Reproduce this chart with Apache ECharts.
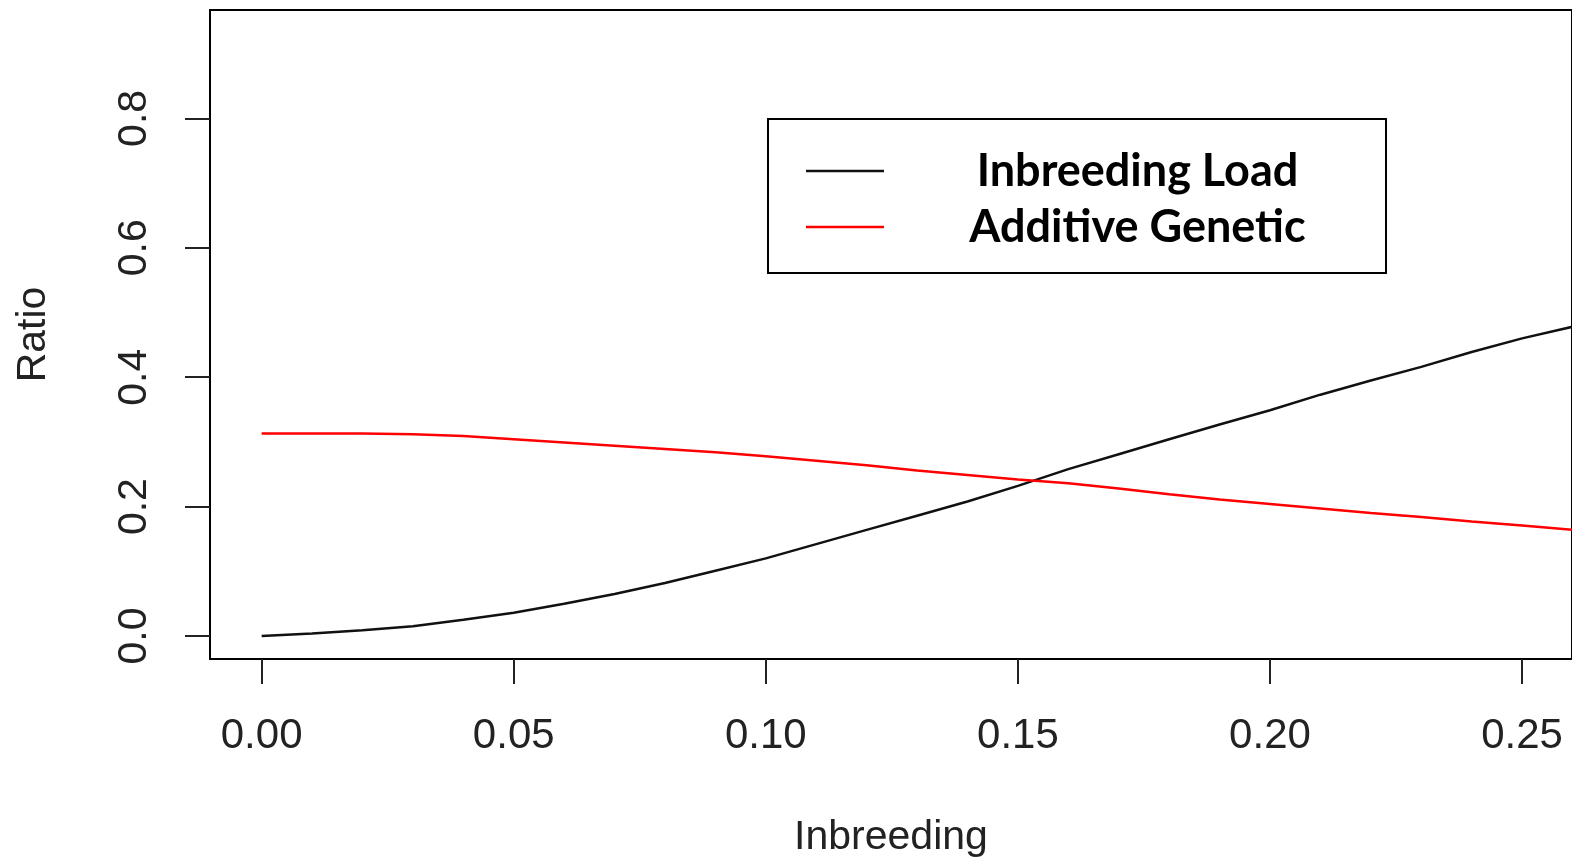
<!DOCTYPE html>
<html>
<head>
<meta charset="utf-8">
<script src="https://cdn.jsdelivr.net/npm/echarts@6/dist/echarts.min.js"></script>
<style>
  html, body { margin: 0; padding: 0; background: #fff; }
  #main { width: 1572px; height: 864px; }
</style>
</head>
<body>
<div id="main"></div>
<script>
  // values
  const inbreeding = [0.00, 0.01, 0.02, 0.03, 0.04, 0.05, 0.06, 0.07, 0.08, 0.09,
                      0.10, 0.11, 0.12, 0.13, 0.14, 0.15, 0.16, 0.17, 0.18, 0.19,
                      0.20, 0.21, 0.22, 0.23, 0.24, 0.25, 0.26];
  const inbreedingLoad = [0.000, 0.004, 0.009, 0.015, 0.025, 0.036, 0.050, 0.065, 0.082, 0.101,
                          0.120, 0.142, 0.164, 0.186, 0.208, 0.232, 0.258, 0.281, 0.304, 0.327,
                          0.349, 0.373, 0.395, 0.416, 0.439, 0.460, 0.478];
  const additiveGenetic = [0.313, 0.313, 0.313, 0.312, 0.309, 0.304, 0.299, 0.294, 0.289, 0.284,
                           0.278, 0.271, 0.264, 0.256, 0.249, 0.242, 0.236, 0.228, 0.219, 0.211,
                           0.204, 0.197, 0.190, 0.184, 0.177, 0.171, 0.164];
  const xTicks = [0, 0.05, 0.10, 0.15, 0.20, 0.25];
  const yTicks = [0, 0.2, 0.4, 0.6, 0.8];

  const axisFont = 'Liberation Sans';
  const legendFont = 'Lato';

  let myChart = echarts.init(document.getElementById('main'));

  myChart.setOption({
    animation: false,
    backgroundColor: '#fff',
    grid: {
      left: 210, top: 10, right: -2, bottom: 205,
      show: true, borderColor: '#000', borderWidth: 2
    },
    legend: {
      orient: 'vertical',
      left: 768, top: 119,
      padding: [24, 0, 18, 38],
      borderColor: '#000', borderWidth: 2,
      backgroundColor: '#fff',
      icon: 'rect',
      itemWidth: 78, itemHeight: 2.5, itemGap: 0,
      selectedMode: false,
      formatter: function (name) { return '{t|' + name + '}'; },
      textStyle: {
        color: '#000',
        lineHeight: 56,
        rich: {
          t: { width: 497, height: 56, align: 'center', fontFamily: legendFont, fontWeight: 'bold',
               fontSize: 45, lineHeight: 56, color: '#000' }
        }
      },
      data: ['Inbreeding Load', 'Additive Genetic']
    },
    xAxis: {
      type: 'value',
      min: -0.01024, max: 0.2599,
      name: 'Inbreeding',
      nameLocation: 'middle',
      nameGap: 158,
      nameTextStyle: { fontFamily: axisFont, fontSize: 41, color: '#222' },
      axisLine: { show: false, onZero: false },
      axisTick: { show: true, length: 25, customValues: xTicks, lineStyle: { color: '#222', width: 2 } },
      axisLabel: {
        customValues: xTicks, margin: 56,
        fontFamily: axisFont, fontSize: 42, color: '#222',
        formatter: function (v) { return v.toFixed(2); }
      },
      splitLine: { show: false }
    },
    yAxis: {
      type: 'value',
      min: -0.0355, max: 0.9675,
      name: 'Ratio',
      nameLocation: 'middle',
      nameGap: 156,
      nameTextStyle: { fontFamily: axisFont, fontSize: 41, color: '#222' },
      axisLine: { show: false, onZero: false },
      axisTick: { show: true, length: 25, customValues: yTicks, lineStyle: { color: '#222', width: 2 } },
      axisLabel: {
        customValues: yTicks, margin: 55, rotate: 90,
        fontFamily: axisFont, fontSize: 41, color: '#222',
        formatter: function (v) { return v.toFixed(1); }
      },
      splitLine: { show: false }
    },
    series: [
      {
        name: 'Inbreeding Load',
        type: 'line',
        symbol: 'none',
        color: '#111',
        itemStyle: { color: '#111' },
        lineStyle: { color: '#111', width: 2.5 },
        data: inbreeding.map((x, i) => [x, inbreedingLoad[i]])
      },
      {
        name: 'Additive Genetic',
        type: 'line',
        symbol: 'none',
        color: '#ff0000',
        itemStyle: { color: '#ff0000' },
        lineStyle: { color: '#ff0000', width: 2.5 },
        data: inbreeding.map((x, i) => [x, additiveGenetic[i]])
      }
    ]
  });

  window.onresize = function () {
    if (myChart) {
      myChart.resize();
    }
  };
</script>
</body>
</html>
